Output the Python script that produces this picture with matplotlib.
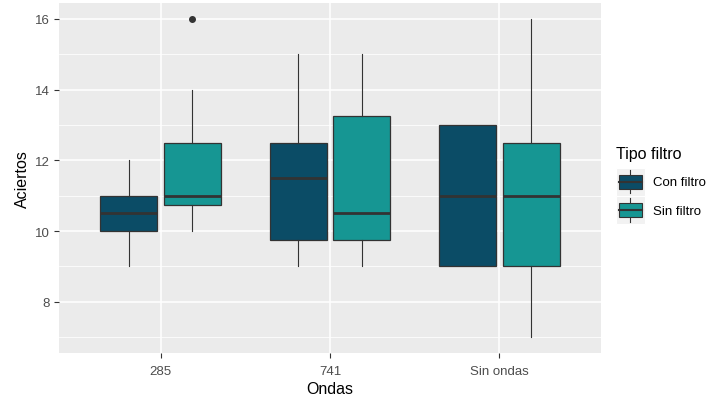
import matplotlib
matplotlib.use("Agg")
import matplotlib.pyplot as plt
from matplotlib.legend_handler import HandlerBase
from matplotlib.lines import Line2D
from matplotlib.patches import Patch, Rectangle

plt.rcParams["font.family"] = ["Liberation Sans", "DejaVu Sans"]

# Box statistics (Aciertos by Ondas and Tipo filtro)
categories = ["285", "741", "Sin ondas"]
groups = ["Con filtro", "Sin filtro"]
colors = {"Con filtro": "#0B4C66", "Sin filtro": "#169693"}

whislo = {"Con filtro": [9, 9, 9], "Sin filtro": [10, 9, 7]}
q1 = {"Con filtro": [10, 9.75, 9], "Sin filtro": [10.75, 9.75, 9]}
med = {"Con filtro": [10.5, 11.5, 11], "Sin filtro": [11, 10.5, 11]}
q3 = {"Con filtro": [11, 12.5, 13], "Sin filtro": [12.5, 13.25, 12.5]}
whishi = {"Con filtro": [12, 15, 13], "Sin filtro": [14, 15, 16]}
fliers = {"Con filtro": [[], [], []], "Sin filtro": [[16], [], []]}

y_ticks = [8, 10, 12, 14, 16]
y_minor = [7, 9, 11, 13, 15]

OUTLINE = "#333333"


class BoxKeyHandler(HandlerBase):
    """Legend key drawn like a small ggplot boxplot glyph."""

    def create_artists(self, legend, orig_handle, xdescent, ydescent,
                       width, height, fontsize, trans):
        x0, y0 = -xdescent, -ydescent
        cx = x0 + width / 2
        bg = Rectangle((x0, y0), width, height, facecolor="#F2F2F2",
                       edgecolor="white", lw=0.8, transform=trans)
        whisk = Line2D([cx, cx], [y0 + 0.08 * height, y0 + 0.92 * height],
                       color=OUTLINE, lw=0.8, transform=trans)
        box = Rectangle((x0 + 0.1 * width, y0 + 0.25 * height), 0.8 * width,
                        0.5 * height, facecolor=orig_handle.get_facecolor(),
                        edgecolor=OUTLINE, lw=0.8, transform=trans)
        mline = Line2D([x0 + 0.1 * width, x0 + 0.9 * width],
                       [y0 + height / 2] * 2, color=OUTLINE, lw=1.5,
                       transform=trans)
        return [bg, whisk, box, mline]


fig = plt.figure(figsize=(7.25, 4.02), dpi=100)
ax = fig.add_axes([59 / 725, 1 - 354 / 402, 542 / 725, 350 / 402])
ax.set_facecolor("#EBEBEB")

dodge = 0.1875
box_w = 0.3375
for gi, g in enumerate(groups):
    offset = -dodge if gi == 0 else dodge
    stats = []
    for ci, cat in enumerate(categories):
        stats.append(dict(whislo=whislo[g][ci], q1=q1[g][ci], med=med[g][ci],
                          q3=q3[g][ci], whishi=whishi[g][ci], fliers=fliers[g][ci]))
    positions = [i + offset for i in range(len(categories))]
    ax.bxp(
        stats,
        positions=positions,
        widths=box_w,
        patch_artist=True,
        showcaps=False,
        boxprops=dict(facecolor=colors[g], edgecolor=OUTLINE, linewidth=0.9),
        whiskerprops=dict(color=OUTLINE, linewidth=0.8),
        medianprops=dict(color=OUTLINE, linewidth=2.0, solid_capstyle="butt"),
        flierprops=dict(marker="o", markerfacecolor=OUTLINE,
                        markeredgecolor=OUTLINE, markersize=4),
        manage_ticks=False,
        zorder=3,
    )

ax.set_xlim(-0.6, len(categories) - 0.4)
ax.set_ylim(6.55, 16.45)
ax.set_xticks(range(len(categories)))
ax.set_xticklabels(categories)
ax.set_yticks(y_ticks)
ax.set_yticks(y_minor, minor=True)

ax.grid(True, which="major", color="white", linewidth=1.1, zorder=0)
ax.grid(True, which="minor", axis="y", color="white", linewidth=0.55, zorder=0)
ax.set_axisbelow(True)
for spine in ax.spines.values():
    spine.set_visible(False)
ax.tick_params(axis="both", which="major", colors=OUTLINE, length=3.5,
               width=0.8, labelcolor="#4D4D4D", labelsize=9.5, pad=3)
ax.tick_params(axis="x", which="major", pad=5)
ax.tick_params(axis="both", which="minor", length=0)

ax.set_xlabel("Ondas", fontsize=11.5, color="black", labelpad=3)
ax.set_ylabel("Aciertos", fontsize=11.5, color="black", labelpad=4)

handles = [Patch(facecolor=colors[g], label=g) for g in groups]
leg = ax.legend(
    handles=handles,
    handler_map={Patch: BoxKeyHandler()},
    title="Tipo filtro",
    title_fontsize=11.5,
    fontsize=9.5,
    frameon=False,
    loc="upper left",
    bbox_to_anchor=(609 / 725, 1 - 140 / 402),
    bbox_transform=fig.transFigure,
    borderpad=0,
    handlelength=2.2,
    handleheight=2.9,
    handletextpad=0.6,
    labelspacing=0.0,
    alignment="left",
)
# gap between legend title and keys, as in ggplot
leg._legend_box.sep = 5

fig.savefig("out.png", dpi=100)
